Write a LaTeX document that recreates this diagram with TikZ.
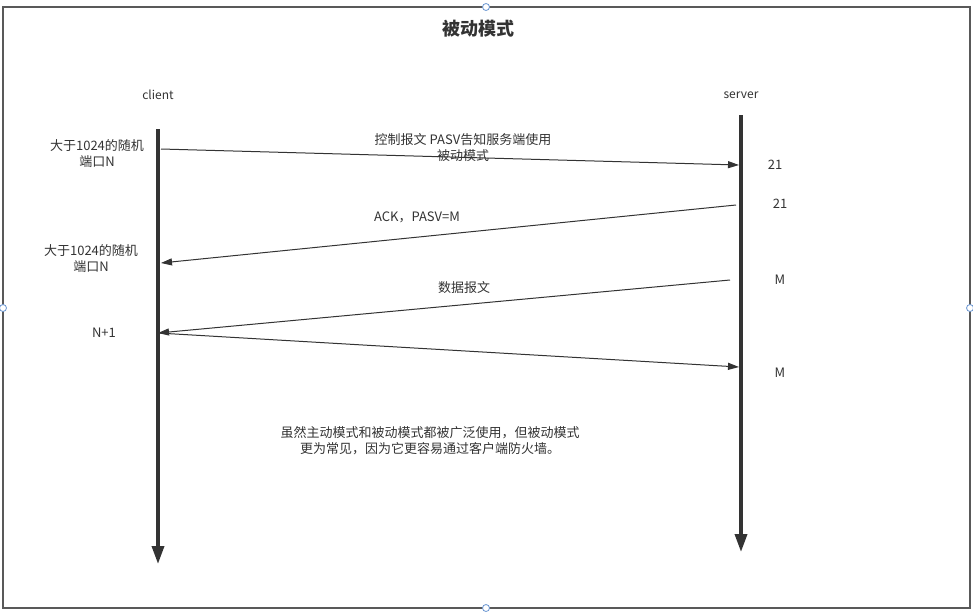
\documentclass[tikz,border=0pt]{standalone}
\usepackage{fontspec}
\setmainfont{Noto Sans CJK SC}
\usetikzlibrary{arrows.meta}
\definecolor{ink}{HTML}{333333}
\definecolor{handle}{HTML}{6A96D2}

\tikzset{
  lifeline/.style={draw=ink, line width=3.5pt,
    -{Triangle[length=18pt,width=12pt]}},
  msg/.style={draw=ink, line width=1pt,
    -{Triangle[length=11pt,width=7pt]}},
  lbl/.style={font=\fontsize{13}{16}\selectfont, text=ink, align=center, inner sep=0pt},
  small/.style={font=\fontsize{12}{14}\selectfont, text=ink, inner sep=0pt},
  grip/.style={draw=handle, fill=white, line width=0.8pt},
}

\begin{document}
\begin{tikzpicture}[x=1pt, y=-1pt]
\def\cx{158}
\def\sx{741}

\useasboundingbox (0,0) rectangle (973,614);
\draw[line width=1.6pt, draw=black!65] (3,7) rectangle (970,608);
\node[lbl, font=\bfseries\fontsize{18}{20}\selectfont] (title) at (478,29) {被动模式};

% the two parties
\node[small] (client) at (\cx,95) {client};
\node[small] (server) at (\sx,95) {server};
\coordinate (cl-top) at (\cx,129);
\coordinate (cl-end) at (\cx,564);
\coordinate (sv-top) at (\sx,115);
\coordinate (sv-end) at (\sx,552);
\draw[lifeline] (cl-top) -- (cl-end);
\draw[lifeline] (sv-top) -- (sv-end);

% message end points
\coordinate (m1a) at (161,149);
\coordinate (m1b) at (739,165);
\coordinate (m2a) at (736,205);
\coordinate (m2b) at (161,263);
\coordinate (m3a) at (730,280);
\coordinate (m3b) at (158,333);
\coordinate (m4a) at (158,333);
\coordinate (m4b) at (739,367);

\draw[msg] (m1a) -- (m1b);
\draw[msg] (m2a) -- (m2b);
\draw[msg] (m3a) -- (m3b);
\draw[msg] (m4a) -- (m4b);

% labels on the messages
\node[lbl] (lab1) at (463,148) {控制报文 PASV告知服务端使用\\被动模式};
\node[lbl] (lab2) at (417,217) {ACK，PASV=M};
\node[lbl] (lab3) at (464,288) {数据报文};

% ports
\node[lbl] (portN1) at (97,154) {大于1024的随机\\端口N};
\node[lbl] (portN2) at (91,259) {大于1024的随机\\端口N};
\node[lbl] (portN3) at (104,333) {N+1};
\node[lbl] (port21a) at (775,165) {21};
\node[lbl] (port21b) at (780,204) {21};
\node[lbl] (portMa) at (780,280) {M};
\node[lbl] (portMb) at (780,373) {M};

\node[lbl] (note) at (430,441) {虽然主动模式和被动模式都被广泛使用，但被动模式\\更为常见，因为它更容易通过客户端防火墙。};

% selection grips on the frame
\foreach \p in {(486,7),(3,308),(970,308),(486,608)}
  \draw[grip] \p circle (3.5pt);
\end{tikzpicture}
\end{document}
